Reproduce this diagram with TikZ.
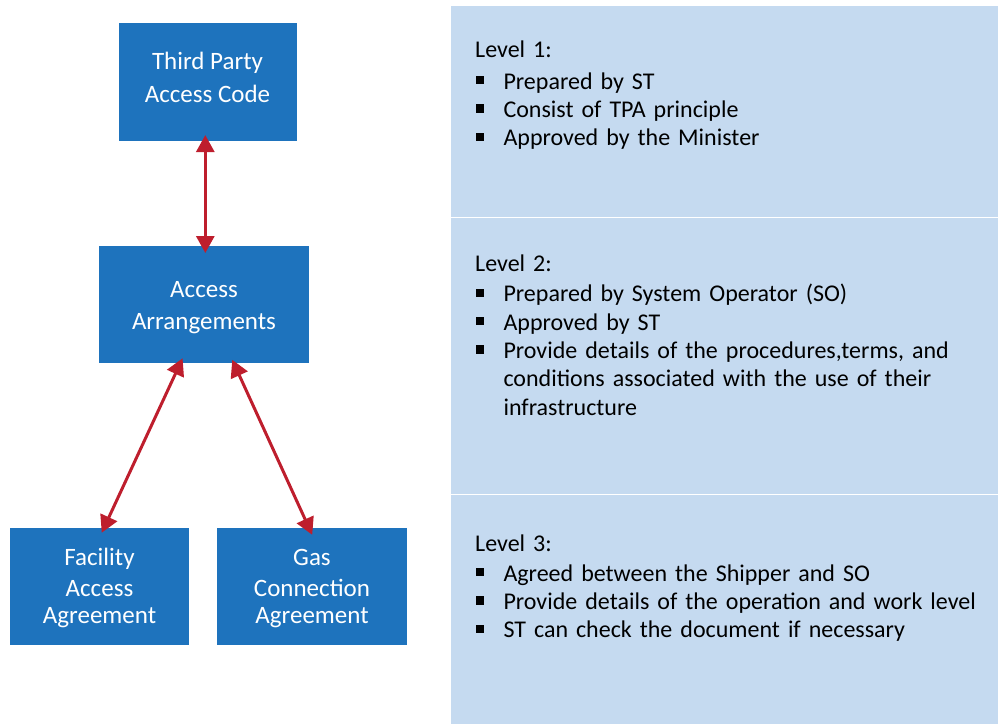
\documentclass[tikz,border=0pt]{standalone}
\usepackage{fontspec}
\setmainfont{Carlito}
\usetikzlibrary{arrows.meta}

\definecolor{boxblue}{RGB}{30,115,189}
\definecolor{panelblue}{RGB}{197,218,240}
\definecolor{arrowred}{RGB}{190,30,45}

% one bulleted entry; wrapped lines stay aligned with the entry text
\newcommand\bulitem[1]{\par\noindent
  \makebox[28.3pt][l]{\hspace{0.7pt}\rule[5pt]{8.3pt}{8.3pt}}%
  \parbox[t]{480pt}{#1}}
\newcommand\firststrut{\rule{0pt}{20pt}}

\begin{document}
\begin{tikzpicture}[x=1pt,y=-1pt,
  box/.style={fill=boxblue, draw=none, inner sep=0pt, outer sep=0pt},
  boxtext/.style={text=white, align=center, inner sep=0pt, anchor=north},
  panel/.style={fill=panelblue, draw=none, inner sep=0pt, outer sep=0pt, anchor=north west, minimum width=547pt},
  paneltext/.style={inner sep=0pt, anchor=north west, text width=520pt, align=left,
    font=\fontsize{24}{28.3}\selectfont},
  link/.style={draw=arrowred, line width=3pt,
    {Triangle[width=18pt,length=17pt]}-{Triangle[width=18pt,length=17pt]}}
]
\useasboundingbox (0,0) rectangle (998,724);

% level panels on the right
\node[panel, minimum height=210.5pt] (p1) at (451,6) {};
\node[panel, minimum height=275.5pt] (p2) at (451,218) {};
\node[panel, minimum height=229pt] (p3) at (451,495) {};

% document boxes
\node[box, minimum width=178.2pt, minimum height=117.7pt] (tpac) at (207.6,81.9) {};
\node[box, minimum width=210pt, minimum height=117pt] (aa) at (204,304.5) {};
\node[box, minimum width=179pt, minimum height=117pt] (faa) at (99.5,586.5) {};
\node[box, minimum width=190pt, minimum height=117pt] (gca) at (312,586.5) {};

% box captions
\node[boxtext, font=\fontsize{25}{33}\selectfont] (tpac-t) at (207.5,49.3)
  {\firststrut Third Party\\Access Code};
\node[boxtext, font=\fontsize{25}{32}\selectfont] (aa-t) at (204,277.3)
  {\firststrut Access\\Arrangements};
\node[boxtext, font=\fontsize{25}{31.7}\selectfont] (faa-t) at (99.5,545)
  {\firststrut Facility\\Access\\[-5pt]Agreement};
\node[boxtext, font=\fontsize{25}{31.7}\selectfont] (gca-t) at (312,545)
  {\firststrut Gas\\Connection\\[-5pt]Agreement};

% links between levels
\draw[link, shorten <=-5.7pt, shorten >=-7pt]
  ([xshift=-2.3pt]tpac.south) -- ([xshift=1.3pt]aa.north);
\draw[link, shorten <=-5.2pt, shorten >=-5.2pt]
  ([xshift=-23.6pt]aa.south) -- ([xshift=4.4pt]faa.north);
\draw[link, shorten <=-3.5pt, shorten >=-7.5pt]
  ([xshift=29.7pt]aa.south) -- ([xshift=-2.9pt]gca.north);

% level descriptions
\node[paneltext] (l1) at (475,37.3) {\parindent=0pt
  \firststrut Level 1:\par\vspace{3.4pt}%
  \bulitem{Prepared by ST}%
  \bulitem{Consist of TPA principle}%
  \bulitem{Approved by the Minister}};
\node[paneltext] (l2) at (475,251.7) {\parindent=0pt
  \firststrut Level 2:\par\vspace{1.7pt}%
  \bulitem{Prepared by System Operator (SO)}%
  \bulitem{Approved by ST}%
  \bulitem{Provide details of the procedures,terms, and\\conditions associated with the use of their\\infrastructure}};
\node[paneltext] (l3) at (475,531.7) {\parindent=0pt
  \firststrut Level 3:\par\vspace{1pt}%
  \bulitem{Agreed between the Shipper and SO}%
  \bulitem{Provide details of the operation and work level}%
  \bulitem{ST can check the document if necessary}};
\end{tikzpicture}
\end{document}
